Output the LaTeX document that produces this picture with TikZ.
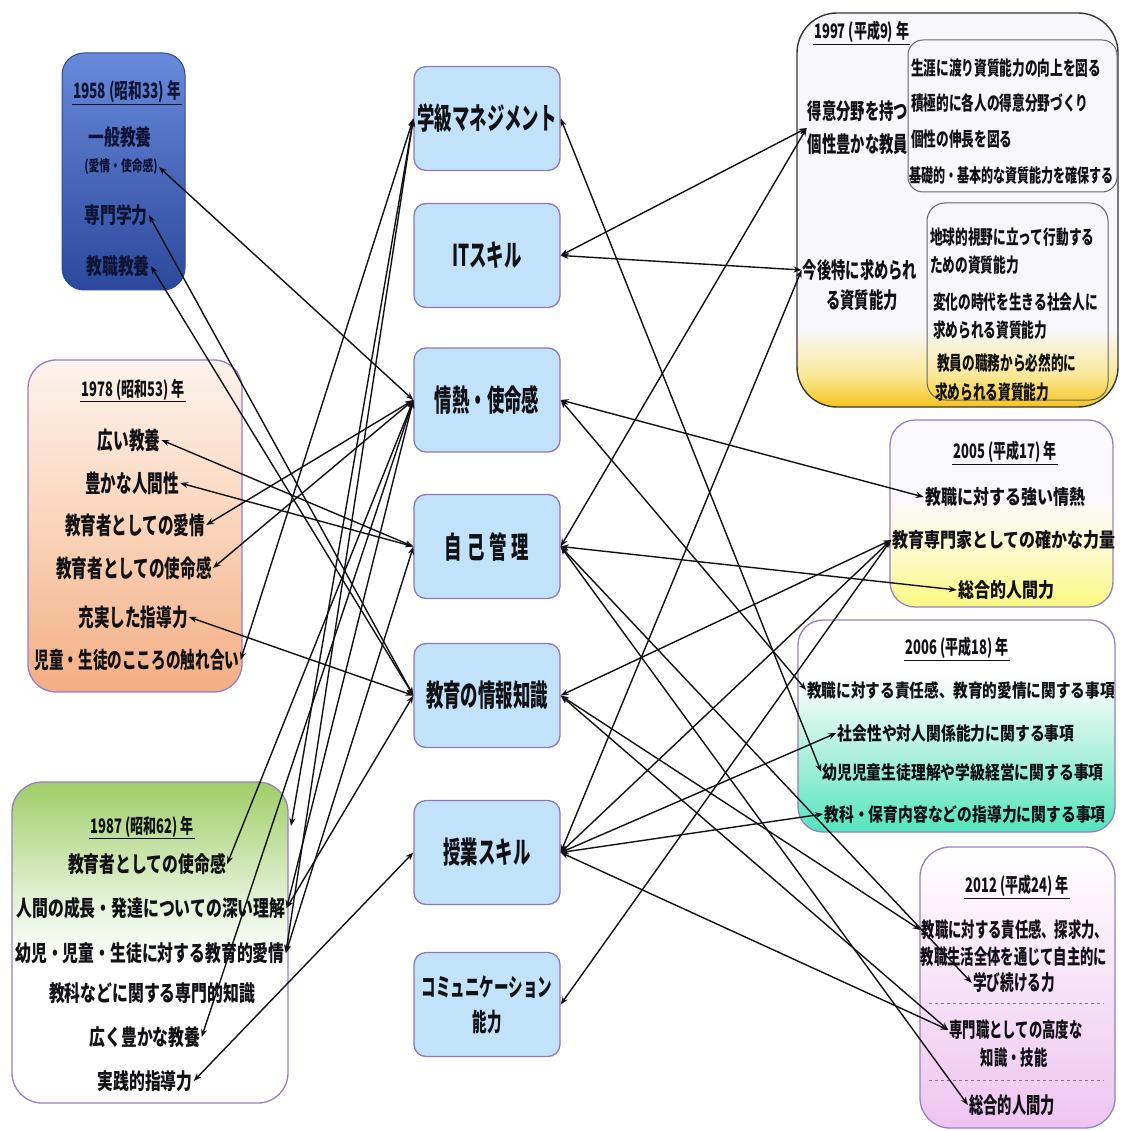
\documentclass[tikz,border=0pt]{standalone}
\usepackage{fontspec}
\usetikzlibrary{arrows.meta}
% condensed gothic faces in several widths
\newfontfamily\fA{Noto Sans CJK JP}[FakeStretch=0.58]
\newfontfamily\fB{Noto Sans CJK JP}[FakeStretch=0.65]
\newfontfamily\fC{Noto Sans CJK JP}[FakeStretch=0.72]
\newfontfamily\fD{Noto Sans CJK JP}[FakeStretch=0.80]

\definecolor{ink}{RGB}{18,18,22}
\definecolor{navy}{RGB}{16,20,52}
\definecolor{cfill}{RGB}{194,226,250}
\definecolor{cline}{RGB}{140,122,190}
\definecolor{frame}{RGB}{150,128,192}
\definecolor{b58top}{RGB}{104,138,218}
\definecolor{b58bot}{RGB}{44,72,156}
\definecolor{p78top}{RGB}{253,243,236}
\definecolor{p78mid}{RGB}{249,212,186}
\definecolor{p78bot}{RGB}{243,174,132}
\definecolor{g87top}{RGB}{160,206,104}
\definecolor{g87mid}{RGB}{226,241,212}
\definecolor{w97}{RGB}{248,248,252}
\definecolor{y97}{RGB}{246,196,30}
\definecolor{y97m}{RGB}{250,232,150}
\definecolor{w05}{RGB}{250,248,255}
\definecolor{y05}{RGB}{250,248,128}
\definecolor{y05m}{RGB}{252,251,205}
\definecolor{a06}{RGB}{84,228,190}
\definecolor{a06m}{RGB}{186,242,224}
\definecolor{p12}{RGB}{238,196,240}

% vertical shadings: 25bp = bottom edge, 75bp = top edge of the path
\pgfdeclareverticalshading{sh58}{100bp}{color(0bp)=(b58bot); color(25bp)=(b58bot); color(75bp)=(b58top); color(100bp)=(b58top)}
\pgfdeclareverticalshading{sh78}{100bp}{color(0bp)=(p78bot); color(25bp)=(p78bot); color(50bp)=(p78mid); color(75bp)=(p78top); color(100bp)=(p78top)}
\pgfdeclareverticalshading{sh87}{100bp}{color(0bp)=(white); color(25bp)=(white); color(47bp)=(white); color(57bp)=(g87mid); color(75bp)=(g87top); color(100bp)=(g87top)}
\pgfdeclareverticalshading{sh97}{100bp}{color(0bp)=(y97); color(25bp)=(y97); color(29bp)=(y97m); color(35bp)=(w97); color(75bp)=(w97); color(100bp)=(w97)}
\pgfdeclareverticalshading{sh05}{100bp}{color(0bp)=(y05); color(25bp)=(y05); color(40bp)=(y05m); color(55bp)=(w05); color(75bp)=(w05); color(100bp)=(w05)}
\pgfdeclareverticalshading{sh06}{100bp}{color(0bp)=(a06); color(25bp)=(a06); color(46bp)=(a06m); color(62bp)=(white); color(75bp)=(white); color(100bp)=(white)}
\pgfdeclareverticalshading{sh12}{100bp}{color(0bp)=(p12); color(25bp)=(p12); color(75bp)=(white); color(100bp)=(white)}

\tikzset{
  skill/.style={draw=cline, fill=cfill, line width=1.3pt, rounded corners=12pt,
    minimum width=146pt, minimum height=104pt, align=center, text=ink,
    font=\fA\bfseries\fontsize{30}{34}\selectfont},
  yeartitle/.style={inner sep=1pt, text=ink, font=\fB\bfseries\fontsize{20}{22}\selectfont},
  itemL/.style={inner sep=1pt, text=ink, font=\fB\bfseries\fontsize{24}{26}\selectfont},
  itemM/.style={inner sep=1pt, text=ink, font=\fC\bfseries\fontsize{22}{24}\selectfont},
  itemR/.style={inner sep=1pt, text=ink, font=\fD\bfseries\fontsize{19}{21}\selectfont},
  itemS/.style={inner sep=1pt, text=ink, font=\fB\bfseries\fontsize{19.5}{21}\selectfont},
  ul/.style={draw=ink, line width=0.9pt},
  conn/.style={draw=ink, line width=1.4pt,
    {Stealth[length=8pt,width=6pt]}-{Stealth[length=8pt,width=6pt]}},
}

\begin{document}
\begin{tikzpicture}[x=1pt, y=-1pt]
\useasboundingbox (0,0) rectangle (1121,1131);
\fill[white] (0,0) rectangle (1121,1131);

% ---------- year panels ----------
\shadedraw[shading=sh58, draw=b58bot, line width=1pt, rounded corners=22pt] (62,53) rectangle (185,290);
\shadedraw[shading=sh78, draw=frame, line width=1.3pt, rounded corners=28pt] (28,360) rectangle (242,692);
\shadedraw[shading=sh87, draw=frame, line width=1.3pt, rounded corners=30pt] (12,782) rectangle (288,1103);
\shadedraw[shading=sh97, draw=ink!85, line width=1.4pt, rounded corners=40pt] (797,13) rectangle (1118,407);
\draw[draw=ink!65, line width=1pt, rounded corners=15pt] (908,40) rectangle (1117,192);
\draw[draw=ink!65, line width=1pt, rounded corners=18pt] (927,203) rectangle (1108,400);
\shadedraw[shading=sh05, draw=frame, line width=1.3pt, rounded corners=25pt] (890,420) rectangle (1113,607);
\shadedraw[shading=sh06, draw=frame, line width=1.3pt, rounded corners=25pt] (798,620) rectangle (1115,832);
\shadedraw[shading=sh12, draw=frame, line width=1.3pt, rounded corners=30pt] (920,847) rectangle (1115,1128);

% ---------- 1958 ----------
\node[yeartitle, text=navy, font=\fB\bfseries\fontsize{21}{23}\selectfont] (t58) at (127,92) {1958 (昭和33) 年};
\draw[ul, draw=navy] (t58.south west) -- (t58.south east);
\node[itemM, text=navy] (a58) at (120,137) {一般教養};
\node[itemM, text=navy, font=\fC\bfseries\fontsize{15}{17}\selectfont] (b58) at (121,167) {(愛情・使命感)};
\node[itemM, text=navy] (c58) at (116,215) {専門学力};
\node[itemM, text=navy] (d58) at (118,266) {教職教養};

% ---------- 1978 ----------
\node[yeartitle] (t78) at (133,390) {1978 (昭和53) 年};
\draw[ul] (t78.south west) -- (t78.south east);
\node[itemL] (a78) at (129,440) {広い教養};
\node[itemL] (b78) at (132,483) {豊かな人間性};
\node[itemL] (c78) at (135,525) {教育者としての愛情};
\node[itemL] (d78) at (134,568) {教育者としての使命感};
\node[itemL] (e78) at (133,617) {充実した指導力};
\node[itemL, font=\fB\bfseries\fontsize{22.5}{24}\selectfont] (f78) at (137,660) {児童・生徒のこころの触れ合い};

% ---------- 1987 ----------
\node[yeartitle] (t87) at (142,827) {1987 (昭和62) 年};
\draw[ul] (t87.south west) -- (t87.south east);
\coordinate (p87) at (291,826);
\node[itemM] (a87) at (147,864) {教育者としての使命感};
\node[itemM] (b87) at (151,908) {人間の成長・発達についての深い理解};
\node[itemM] (c87) at (150,953) {幼児・児童・生徒に対する教育的愛情};
\node[itemM] (d87) at (152,993) {教科などに関する専門的知識};
\node[itemM] (e87) at (145,1037) {広く豊かな教養};
\node[itemM] (f87) at (145,1081) {実践的指導力};

% ---------- skills ----------
\node[skill] (cM)  at (487,118.5) {学級マネジメント};
\node[skill] (cIT) at (487,255.5) {ITスキル};
\node[skill] (cJ)  at (487,400) {情熱・使命感};
\node[skill] (cS)  at (487,546.5) {自\,己\,管\,理};
\node[skill] (cK)  at (487,695.5) {教育の情報知識};
\node[skill] (cJG) at (487,852.5) {授業スキル};
\node[skill, font=\fA\bfseries\fontsize{25}{35}\selectfont] (cCM) at (487,1004.5) {コミュニケーション\\能力};

% ---------- 1997 ----------
\node[yeartitle, anchor=west] (t97) at (813,32) {1997 (平成9) 年};
\draw[ul] (t97.south west) -- (t97.south east);
\node[itemS, font=\fB\bfseries\fontsize{22}{33}\selectfont, align=center] (g97) at (858,128) {得意分野を持つ\\個性豊かな教員};
\node[itemS, font=\fB\bfseries\fontsize{22}{24}\selectfont] (k97a) at (860,270) {今後特に求められ};
\node[itemS, font=\fB\bfseries\fontsize{22}{24}\selectfont] (k97b) at (862,300) {る資質能力};
\node[itemS, anchor=west] (i1) at (910,68) {生涯に渡り資質能力の向上を図る};
\node[itemS, anchor=west] (i2) at (910,103) {積極的に各人の得意分野づくり};
\node[itemS, anchor=west] (i3) at (910,139) {個性の伸長を図る};
\node[itemS, anchor=west, font=\fB\bfseries\fontsize{18.5}{20}\selectfont] (i4) at (908,175) {基礎的・基本的な資質能力を確保する};
\node[itemS, anchor=west] (j1) at (929,237) {地球的視野に立って行動する};
\node[itemS, anchor=west] (j2) at (929,265) {ための資質能力};
\node[itemS, anchor=west] (j3) at (932,302) {変化の時代を生きる社会人に};
\node[itemS, anchor=west] (j4) at (932,330) {求められる資質能力};
\node[itemS, anchor=west] (j5) at (936,363) {教員の職務から必然的に};
\node[itemS, anchor=west] (j6) at (934,392) {求められる資質能力};

% ---------- 2005 ----------
\node[yeartitle] (t05) at (1005,452) {2005 (平成17) 年};
\draw[ul] (t05.south west) -- (t05.south east);
\node[itemR, font=\fD\bfseries\fontsize{20}{22}\selectfont] (a05) at (1005,497) {教職に対する強い情熱};
\node[itemR, font=\fD\bfseries\fontsize{20}{22}\selectfont] (b05) at (1004,540) {教育専門家としての確かな力量};
\node[itemR, font=\fD\bfseries\fontsize{20}{22}\selectfont] (c05) at (1006,590) {総合的人間力};

% ---------- 2006 ----------
\node[yeartitle] (t06) at (957,648) {2006 (平成18) 年};
\draw[ul] (t06.south west) -- (t06.south east);
\node[itemR, font=\fD\bfseries\fontsize{18.3}{20}\selectfont] (a06) at (961,690) {教職に対する責任感、教育的愛情に関する事項};
\node[itemR, font=\fD\bfseries\fontsize{18.5}{20}\selectfont] (b06) at (956,733) {社会性や対人関係能力に関する事項};
\node[itemR, font=\fD\bfseries\fontsize{18.5}{20}\selectfont] (c06) at (963,772) {幼児児童生徒理解や学級経営に関する事項};
\node[itemR, font=\fD\bfseries\fontsize{18.5}{20}\selectfont] (d06) at (965,814) {教科・保育内容などの指導力に関する事項};

% ---------- 2012 ----------
\node[yeartitle] (t12) at (1017,886) {2012 (平成24) 年};
\draw[ul] (t12.south west) -- (t12.south east);
\node[itemS, font=\fB\bfseries\fontsize{20.5}{22}\selectfont] (a12a) at (1015,930) {教職に対する責任感、探求力、};
\node[itemS, font=\fB\bfseries\fontsize{20.5}{22}\selectfont] (a12b) at (1014,957) {教職生活全体を通じて自主的に};
\node[itemS, font=\fB\bfseries\fontsize{21}{22}\selectfont] (a12c) at (1014,983) {学び続ける力};
\draw[ink!55, dashed, line width=1pt] (929,1003) -- (1104,1003);
\node[itemS, font=\fB\bfseries\fontsize{20.5}{22}\selectfont] (b12a) at (1016,1030) {専門職としての高度な};
\node[itemS, font=\fB\bfseries\fontsize{20.5}{22}\selectfont] (b12b) at (1014,1058) {知識・技能};
\draw[ink!55, dashed, line width=1pt] (929,1080) -- (1104,1080);
\node[itemS, font=\fB\bfseries\fontsize{22}{24}\selectfont] (c12) at (1012,1105) {総合的人間力};

% ---------- connectors, left side ----------
\draw[conn] (b58.east) -- (cJ.west);
\draw[conn] (c58.east) -- (cK.west);
\draw[conn] (d58.east) -- (cK.west);
\draw[conn] (a78.east) -- (cS.west);
\draw[conn] (b78.east) -- (cS.west);
\draw[conn] (c78.east) -- (cJ.west);
\draw[conn] (d78.east) -- (cJ.west);
\draw[conn] (e78.east) -- (cK.west);
\draw[conn] (f78.east) -- (cM.west);
\draw[conn] (p87) -- (cM.west);
\draw[conn] (a87.east) -- (cJ.west);
\draw[conn] (b87.east) -- (cJ.west);
\draw[conn] (b87.east) -- (cK.west);
\draw[conn] (c87.east) -- (cM.west);
\draw[conn] (c87.east) -- (cS.west);
\draw[conn] (e87.east) -- (cJ.west);
\draw[conn] (f87.east) -- (cJG.west);

% ---------- connectors, right side ----------
\draw[conn] (cIT.east) -- (g97.west);
\draw[conn] (cIT.east) -- (k97a.west);
\draw[conn] (cS.east) -- (g97.west);
\draw[conn] (cJG.east) -- (k97a.west);
\draw[conn] (cM.east) -- (c06.west);
\draw[conn] (cJ.east) -- (a05.west);
\draw[conn] (cJ.east) -- (a06.west);
\draw[conn] (cS.east) -- (c05.west);
\draw[conn] (cS.east) -- (a12c.west);
\draw[conn] (cS.east) -- (c12.west);
\draw[conn] (cK.east) -- (b05.west);
\draw[conn] (cK.east) -- (a12a.west);
\draw[conn] (cK.east) -- (b12a.west);
\draw[conn] (cJG.east) -- (b05.west);
\draw[conn] (cJG.east) -- (b06.west);
\draw[conn] (cJG.east) -- (d06.west);
\draw[conn] (cJG.east) -- (b12a.west);
\draw[conn] (cCM.east) -- (b05.west);
\end{tikzpicture}
\end{document}
